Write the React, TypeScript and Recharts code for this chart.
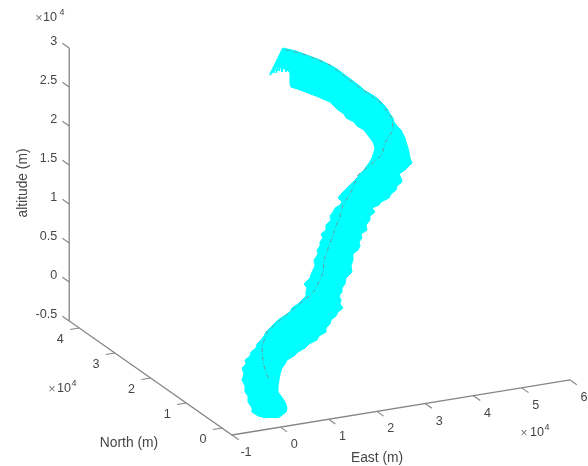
import React from 'react';
import { ComposedChart, Area, Line, XAxis, YAxis, LabelList } from 'recharts';

const WIDTH = 588;
const HEIGHT = 466;

// axis ranges, in units of 10^4 m
const eastTicks = [-1, 0, 1, 2, 3, 4, 5, 6];
const northTicks = [0, 1, 2, 3, 4];
const altTicks = [-0.5, 0, 0.5, 1, 1.5, 2, 2.5, 3];
const northMin = -0.28;
const northMax = 4.28;

const bandRow = [48, 51, 54, 57, 60, 63, 66, 69, 72, 78, 84, 87, 90, 93, 96, 99, 102, 105, 110, 114, 118, 122, 126, 130, 134, 138, 142, 148, 152, 158, 163, 167, 170, 174, 178, 182, 186, 190, 194, 198, 202, 205, 208, 212, 216, 220, 225, 230, 234, 238, 242, 246, 250, 254, 260, 266, 272, 278, 284, 288, 292, 296, 300, 304, 308, 312, 316, 320, 324, 328, 332, 336, 340, 344, 348, 352, 356, 360, 364, 368, 374, 380, 386, 392, 396, 402, 408, 412, 416, 418];
const bandLeft = [283, 281.5, 280, 279, 278, 276, 275, 285, 290, 290, 290, 291, 300, 308, 316, 323, 330, 333, 338, 344, 346, 354, 357, 364, 367, 370, 373, 375, 374, 372, 369, 366, 364, 360, 357, 353, 349, 345, 341, 338, 342, 340, 335, 333, 330, 331, 326, 326, 321, 323, 320, 320, 317, 318, 314, 315, 312, 310, 304, 307, 306, 306, 302, 298, 292, 290, 284, 278, 274, 270, 266, 264, 261, 257, 256, 251, 250, 245, 246, 242, 244, 242, 245, 245, 248, 248, 252, 252, 258, 266];
const bandRight = [283, 296, 304, 312, 320, 326, 332, 337, 341, 349, 357, 361, 364, 369, 374, 378, 381, 384, 388, 390, 393, 394, 397, 401, 403, 405, 406, 408, 409, 410, 412, 408, 405, 399, 401, 402, 397, 396, 391, 389, 381, 379, 372, 375, 370, 370, 366, 367, 361, 362, 359, 360, 358, 353, 353, 351, 352, 346, 345, 342, 342, 339, 341, 340, 343, 338, 336, 331, 330, 326, 326, 319, 317, 309, 305, 298, 294, 287, 285, 282, 280, 279, 278, 278, 281, 285, 287, 286, 281, 278];

// fan of needles at the top of the track
const fanTipX = [270, 273, 276, 279, 282, 286, 291];
const fanTipY = [75, 73, 73, 71, 72, 72, 75];
const fanBaseX = 283;
const fanBaseY = 49;

// flight track (dark dash-dot), seen through the needles
const trackX = [268, 263, 262, 267, 278, 290, 307, 315, 323, 324, 330, 337, 339, 343, 352, 358, 370, 382, 385, 393, 392, 380, 363, 347, 330, 307, 283];
const trackY = [378, 363, 347, 332, 322, 312, 298, 290, 273, 260, 243, 223, 220, 205, 190, 175, 165, 155, 143, 130, 118, 102, 90, 78, 65, 55, 49];

const AXIS_COLOR = '#858585';
const TEXT_COLOR = '#454545';
const FONT = '"Liberation Sans", Arial, sans-serif';

// MATLAB's default orthographic view flattened onto the page
const project = (east: number, north: number, alt: number) => ({
  x: 232 + (east + 1) * 48.29 - (north - northMin) * 35.7,
  y: 435 - (east + 1) * 7.86 - (north - northMin) * 25 - (alt + 0.5) * 78,
});

const axisLines = [
  [project(-1, northMax, 3), project(-1, northMax, -0.5), project(-1, northMin, -0.5), project(6, northMin, -0.5)],
];

const tickLines = [
  ...altTicks.map(v => [project(-1, northMax, v), project(-1, northMax + 0.19, v)]),
  ...northTicks.map(v => [project(-1, v, -0.5), project(-1.19, v, -0.5)]),
  ...eastTicks.map(v => [project(v, northMin, -0.5), project(v, northMin - 0.19, -0.5)]),
];

const bandData = bandRow.map((y, i) => ({ y, range: [bandLeft[i], bandRight[i]] }));
const trackData = trackX.map((x, i) => ({ x, y: trackY[i] }));
const fanLines = fanTipX.map((x, i) => [{ x: fanBaseX, y: fanBaseY }, { x, y: fanTipY[i] }]);

interface TextRow {
  x: number;
  y: number;
  text: string;
  size?: number;
  anchor?: string;
  rotate?: number;
  fill?: string;
}

const fmt = (v: number) => String(v);

const textRows: TextRow[] = [
  ...altTicks.map(v => {
    const p = project(-1, northMax, v);
    return { x: p.x - 12, y: p.y - 7, text: fmt(v), anchor: 'end' };
  }),
  ...northTicks.map(v => {
    const p = project(-1, v, -0.5);
    return { x: p.x - 19, y: p.y + 11, text: fmt(v) };
  }),
  ...eastTicks.map(v => {
    const p = project(v, northMin, -0.5);
    return { x: p.x + 14, y: p.y + 17, text: fmt(v) };
  }),
  { x: 22, y: 183, text: 'altitude (m)', size: 13.8, rotate: -90 },
  { x: 129, y: 442, text: 'North (m)', size: 13.8 },
  { x: 377, y: 457, text: 'East (m)', size: 13.8 },
  { x: 39, y: 18, text: '×', fill: '#7a7a7a' },
  { x: 50, y: 17, text: '10' },
  { x: 62, y: 12, text: '4', size: 9 },
  { x: 52, y: 389, text: '×', fill: '#7a7a7a' },
  { x: 64, y: 388, text: '10' },
  { x: 74, y: 383, text: '4', size: 9 },
  { x: 524, y: 433, text: '×', fill: '#7a7a7a' },
  { x: 537, y: 432, text: '10' },
  { x: 547, y: 427, text: '4', size: 9 },
];

const renderText = (props: any) => {
  const row = textRows[props.index];
  if (!row) return null;
  return (
    <text
      x={row.x}
      y={row.y}
      textAnchor={row.anchor || 'middle'}
      dominantBaseline="central"
      fontFamily={FONT}
      fontSize={row.size || 12.6}
      fill={row.fill || TEXT_COLOR}
      transform={row.rotate ? `rotate(${row.rotate} ${row.x} ${row.y})` : undefined}
    >
      {row.text}
    </text>
  );
};

export default function App() {
  return (
    <div style={{ position: 'absolute', left: 0, top: 0, width: WIDTH, height: HEIGHT, background: '#fff', filter: 'blur(0.45px)' }}>
      <ComposedChart width={WIDTH} height={HEIGHT} layout="vertical" margin={{ top: 0, right: 0, bottom: 0, left: 0 }}>
        <XAxis type="number" dataKey="x" domain={[0, WIDTH]} hide allowDataOverflow />
        <YAxis type="number" dataKey="y" domain={[0, HEIGHT]} hide allowDataOverflow width={0} />

        <Area
          data={bandData}
          dataKey="range"
          type="linear"
          stroke="#00ffff"
          strokeWidth={1}
          fill="#00ffff"
          fillOpacity={1}
          dot={false}
          activeDot={false}
          isAnimationActive={false}
        />
        {fanLines.map((pts, i) => (
          <Line key={`fan-${i}`} data={pts} dataKey="x" type="linear" stroke="#00ffff" strokeWidth={2} dot={false} activeDot={false} isAnimationActive={false} />
        ))}
        <Line
          data={trackData}
          dataKey="x"
          type="linear"
          stroke="#6f9a9a"
          strokeWidth={1}
          strokeDasharray="4 2 1 2"
          dot={false}
          activeDot={false}
          isAnimationActive={false}
        />

        {axisLines.map((pts, i) => (
          <Line key={`axis-${i}`} data={pts} dataKey="x" type="linear" stroke={AXIS_COLOR} strokeWidth={1.3} dot={false} activeDot={false} isAnimationActive={false} />
        ))}
        {tickLines.map((pts, i) => (
          <Line key={`tick-${i}`} data={pts} dataKey="x" type="linear" stroke={AXIS_COLOR} strokeWidth={1.1} dot={false} activeDot={false} isAnimationActive={false} />
        ))}

        <Line data={textRows} dataKey="x" stroke="none" dot={false} activeDot={false} isAnimationActive={false}>
          <LabelList dataKey="text" content={renderText} />
        </Line>
      </ComposedChart>
    </div>
  );
}
